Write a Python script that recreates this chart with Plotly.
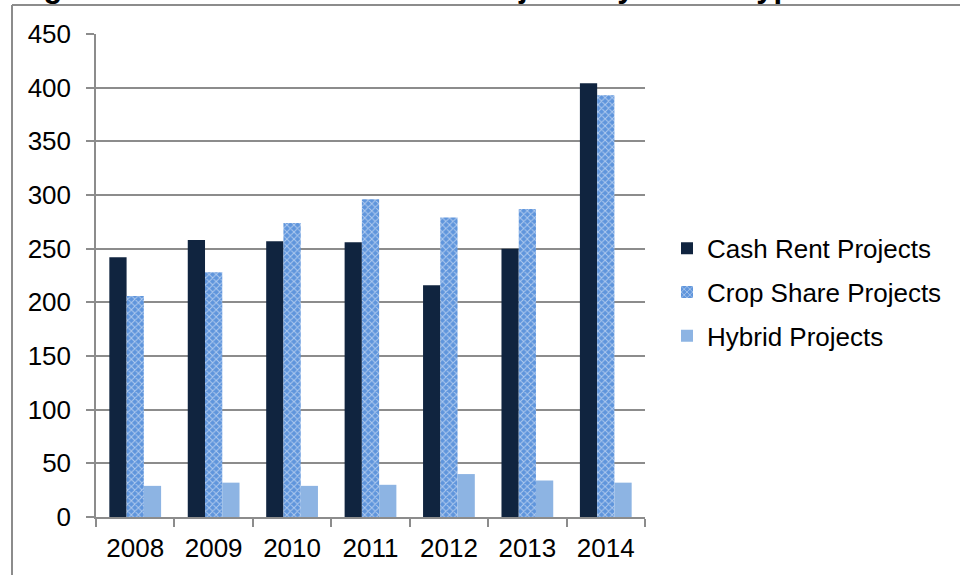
import plotly.graph_objects as go

# Project counts by lease type and year
years = ["2008", "2009", "2010", "2011", "2012", "2013", "2014"]
cash_rent = [242, 258, 257, 256, 216, 250, 404]
crop_share = [206, 228, 274, 296, 279, 287, 393]
hybrid = [29, 32, 29, 30, 40, 34, 32]

y_ticks = [0, 50, 100, 150, 200, 250, 300, 350, 400, 450]

FONT = "Liberation Sans, Arial, sans-serif"
GRID = "#8c8c8c"
FS = 26

# plot area in pixels
W, H = 960, 575
L, R, T, B = 96, 645, 34.4, 516.8

def px_x(p):
    return (p - L) / (R - L)

def px_y(p):
    return (B - p) / (B - T)

fig = go.Figure()
fig.add_trace(go.Bar(
    x=years, y=cash_rent, name="Cash Rent Projects",
    marker=dict(color="#10243f", line=dict(width=0)),
    legendgroup="a",
))
fig.add_trace(go.Bar(
    x=years, y=crop_share, name="Crop Share Projects",
    marker=dict(
        color="#5f95dc",
        line=dict(width=0),
        pattern=dict(shape="x", fgcolor="#ffffff", bgcolor="#5f95dc",
                     size=5, solidity=0.35, fillmode="overlay"),
    ),
    legendgroup="b",
))
fig.add_trace(go.Bar(
    x=years, y=hybrid, name="Hybrid Projects",
    marker=dict(color="#8db4e3", line=dict(width=0)),
    legendgroup="c",
))

fig.update_layout(
    width=W, height=H,
    margin=dict(l=L, r=W - R, t=T, b=H - B, pad=0),
    paper_bgcolor="white",
    plot_bgcolor="white",
    barmode="group",
    bargap=0.34,
    bargroupgap=0,
    font=dict(family=FONT, size=FS, color="black"),
    showlegend=True,
    legend=dict(
        x=px_x(667), y=px_y(225), xanchor="left", yanchor="top",
        xref="paper", yref="paper",
        font=dict(family=FONT, size=FS, color="black"),
        tracegroupgap=7,
        bgcolor="rgba(0,0,0,0)",
    ),
    xaxis=dict(
        type="category",
        showgrid=False,
        showline=True, linecolor=GRID, linewidth=1.5,
        ticks="outside", tickson="boundaries", ticklen=8,
        tickcolor=GRID, tickwidth=1.5,
        tickfont=dict(family=FONT, size=FS, color="black"),
        ticklabelstandoff=7,
        fixedrange=True,
    ),
    yaxis=dict(
        range=[0, 450],
        tickvals=y_ticks,
        showgrid=True, gridcolor=GRID, gridwidth=1.5,
        zeroline=False,
        showline=True, linecolor=GRID, linewidth=1.5,
        ticks="outside", ticklen=8, tickcolor=GRID, tickwidth=1.5,
        tickfont=dict(family=FONT, size=FS, color="black"),
        ticklabelstandoff=10,
        fixedrange=True,
    ),
    shapes=[
        # chart frame
        dict(type="line", xref="paper", yref="paper",
             x0=px_x(12), x1=px_x(970), y0=px_y(5.5), y1=px_y(5.5),
             line=dict(color="#8c8c8c", width=2)),
        dict(type="line", xref="paper", yref="paper",
             x0=px_x(12), x1=px_x(12), y0=px_y(5.5), y1=px_y(590),
             line=dict(color="#8c8c8c", width=2)),
    ],
    annotations=[
        dict(
            text="<b>Figure 2: Number of Farmland Projects by Lease Type</b>",
            xref="paper", yref="paper",
            x=px_x(14), y=px_y(6), xanchor="left", yanchor="bottom",
            showarrow=False,
            font=dict(family=FONT, size=31, color="black"),
        )
    ],
)

fig.write_html("out.html")
